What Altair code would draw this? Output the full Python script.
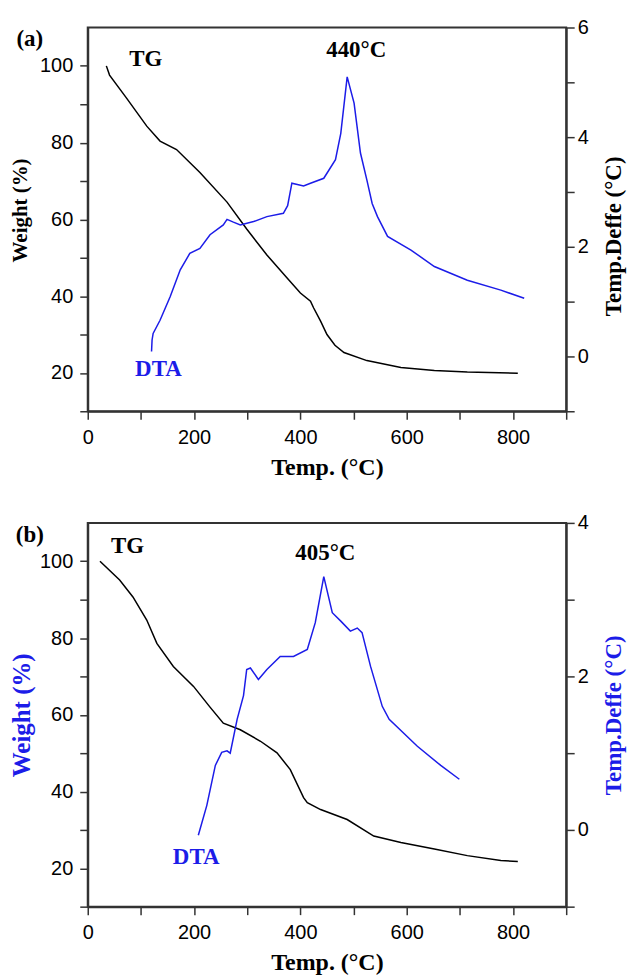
import altair as alt
import pandas as pd

BLUE = "#1c1ce8"
FRAME = "#333333"

# ---------------- panel (a) ----------------
a_tg_x = [35, 41, 73, 111, 136, 167, 211, 262, 299, 337, 375, 400, 419, 425, 438, 450, 465, 482, 525, 589, 652, 714, 809]
a_tg_y = [100, 97.6, 91.6, 84.3, 80.4, 78.2, 72.2, 64.5, 57.5, 50.7, 44.7, 40.8, 38.7, 36.9, 33.5, 30.0, 27.2, 25.3, 23.2, 21.4, 20.6, 20.2, 19.9]

a_dta_x = [120, 121, 123, 136, 155, 174, 192, 211, 230, 255, 262, 274, 287, 312, 337, 368, 376, 384, 406, 419, 444,
           466, 476, 488, 501, 513, 525, 535, 545, 564, 608, 652, 714, 777, 821]
a_dta_y = [0.09, 0.3, 0.42, 0.66, 1.09, 1.58, 1.88, 1.97, 2.22, 2.4, 2.5, 2.45, 2.40, 2.46, 2.55, 2.61, 2.75, 3.16, 3.11, 3.16, 3.25,
           3.59, 4.07, 5.10, 4.62, 3.71, 3.22, 2.79, 2.55, 2.19, 1.94, 1.64, 1.39, 1.21, 1.06]

# ---------------- panel (b) ----------------
b_tg_x = [23, 60, 85, 111, 130, 161, 199, 230, 255, 287, 325, 356, 381, 406, 413, 438, 488, 538, 589, 652, 714, 777, 809]
b_tg_y = [100, 95.1, 90.7, 84.7, 78.6, 72.6, 67.4, 62.0, 57.8, 56.1, 53.1, 50.1, 45.7, 38.4, 37.1, 35.3, 32.7, 28.4, 26.7, 25.0, 23.3, 22.0, 21.8]

b_dta_x = [208, 224, 240, 252, 262, 268, 281, 293, 299, 306, 321, 337, 362, 387, 413, 428, 444, 460, 476, 494, 507, 516,
           532, 554, 567, 620, 664, 699]
b_dta_y = [-0.07, 0.32, 0.84, 1.01, 1.03, 1.0, 1.44, 1.75, 2.09, 2.11, 1.96, 2.09, 2.26, 2.26, 2.35, 2.70, 3.30, 2.83, 2.72, 2.59, 2.63, 2.57,
           2.13, 1.61, 1.44, 1.09, 0.84, 0.66]

# annotations (x in temp units, y in weight units)
a_text = ["(a)", "TG", "440°C", "DTA"]
a_text_x = [-109, 109, 505, 133]
a_text_y = [105.1, 100.0, 102.4, 19.3]
a_text_c = ["black", "black", "black", BLUE]

b_text = ["(b)", "TG", "405°C", "DTA"]
b_text_x = [-109, 75, 447, 204]
b_text_y = [105.0, 102.2, 100.3, 21.0]
b_text_c = ["black", "black", "black", BLUE]

X_TICKS = list(range(0, 901, 100))
W_TICKS = list(range(10, 101, 10))

W, H = 480, 385


def panel(tg_x, tg_y, dta_x, dta_y, rdom, tx, txx, txy, txc, title_color,
          lsize, lpad, lty, rsize, rty):
    tg = pd.DataFrame({"t": tg_x, "w": tg_y})
    dta = pd.DataFrame({"t": dta_x, "d": dta_y})
    txt = pd.DataFrame({"t": txx, "w": txy, "s": tx, "c": txc})

    xenc = alt.X("t:Q", scale=alt.Scale(domain=[0, 900], nice=False, zero=False),
                 axis=alt.Axis(values=X_TICKS, labelExpr="datum.value % 200 == 0 ? datum.label : ''",
                               title="Temp. (°C)", labelFlush=False, labelOverlap=False,
                               labelPadding=8, titlePadding=8, titleFontSize=24))
    wscale = alt.Scale(domain=[10, 110], nice=False, zero=False)

    laxis = dict(values=W_TICKS, labelExpr="datum.value % 20 == 0 ? datum.label : ''",
                 title="Weight (%)", titleColor=title_color, labelOverlap=False,
                 labelFlush=False, labelPadding=7, titlePadding=lpad, titleFontSize=lsize)
    if lty is not None:
        laxis["titleY"] = lty
    tg_line = alt.Chart(tg).mark_line(color="black", strokeWidth=1.5).encode(
        x=xenc,
        y=alt.Y("w:Q", scale=wscale, axis=alt.Axis(**laxis)),
    )
    rvals = list(range(rdom[0], rdom[1] + 1))
    raxis = dict(orient="right", values=rvals,
                 labelExpr="datum.value % 2 == 0 ? datum.label : ''",
                 title="Temp.Deffe (°C)", titleColor=title_color, titleAngle=270,
                 titleBaseline="top", titleFontSize=rsize,
                 labelOverlap=False, labelFlush=False, labelPadding=3, titlePadding=14)
    if rty is not None:
        raxis["titleY"] = rty
    dta_line = alt.Chart(dta).mark_line(color=BLUE, strokeWidth=1.5).encode(
        x=alt.X("t:Q", scale=alt.Scale(domain=[0, 900], nice=False, zero=False)),
        y=alt.Y("d:Q", scale=alt.Scale(domain=rdom, nice=False, zero=False), axis=alt.Axis(**raxis)),
    )
    text = alt.Chart(txt).mark_text(font="Liberation Serif", fontWeight="bold", fontSize=23,
                                    baseline="alphabetic", align="center").encode(
        x=alt.X("t:Q", scale=alt.Scale(domain=[0, 900], nice=False, zero=False)),
        y=alt.Y("w:Q", scale=wscale, axis=None),
        text="s:N",
        color=alt.Color("c:N", scale=None),
    )
    return alt.layer(tg_line, dta_line, text).resolve_scale(y="independent").properties(width=W, height=H)


pa = panel(a_tg_x, a_tg_y, a_dta_x, a_dta_y, [-1, 6], a_text, a_text_x, a_text_y, a_text_c, "black",
           21, 9, 183, 23, 209)
pb = panel(b_tg_x, b_tg_y, b_dta_x, b_dta_y, [-1, 4], b_text, b_text_x, b_text_y, b_text_c, BLUE,
           25, 5, None, 23, None)

chart = alt.vconcat(pa, pb, spacing=32).configure_axis(
    domainColor=FRAME, domainWidth=2, tickColor=FRAME, tickWidth=1.5, tickSize=8,
    labelFont="Liberation Sans", labelFontSize=20, labelColor="black",
    titleFont="Liberation Serif", titleFontWeight="bold", titleFontSize=21, titleColor="black",
    grid=False,
).configure_view(stroke=FRAME, strokeWidth=2).properties(
    background="white", padding={"left": 0, "top": 7, "right": 0, "bottom": 0})

chart.save("out.html", embed_options={"renderer": "svg", "actions": False})
